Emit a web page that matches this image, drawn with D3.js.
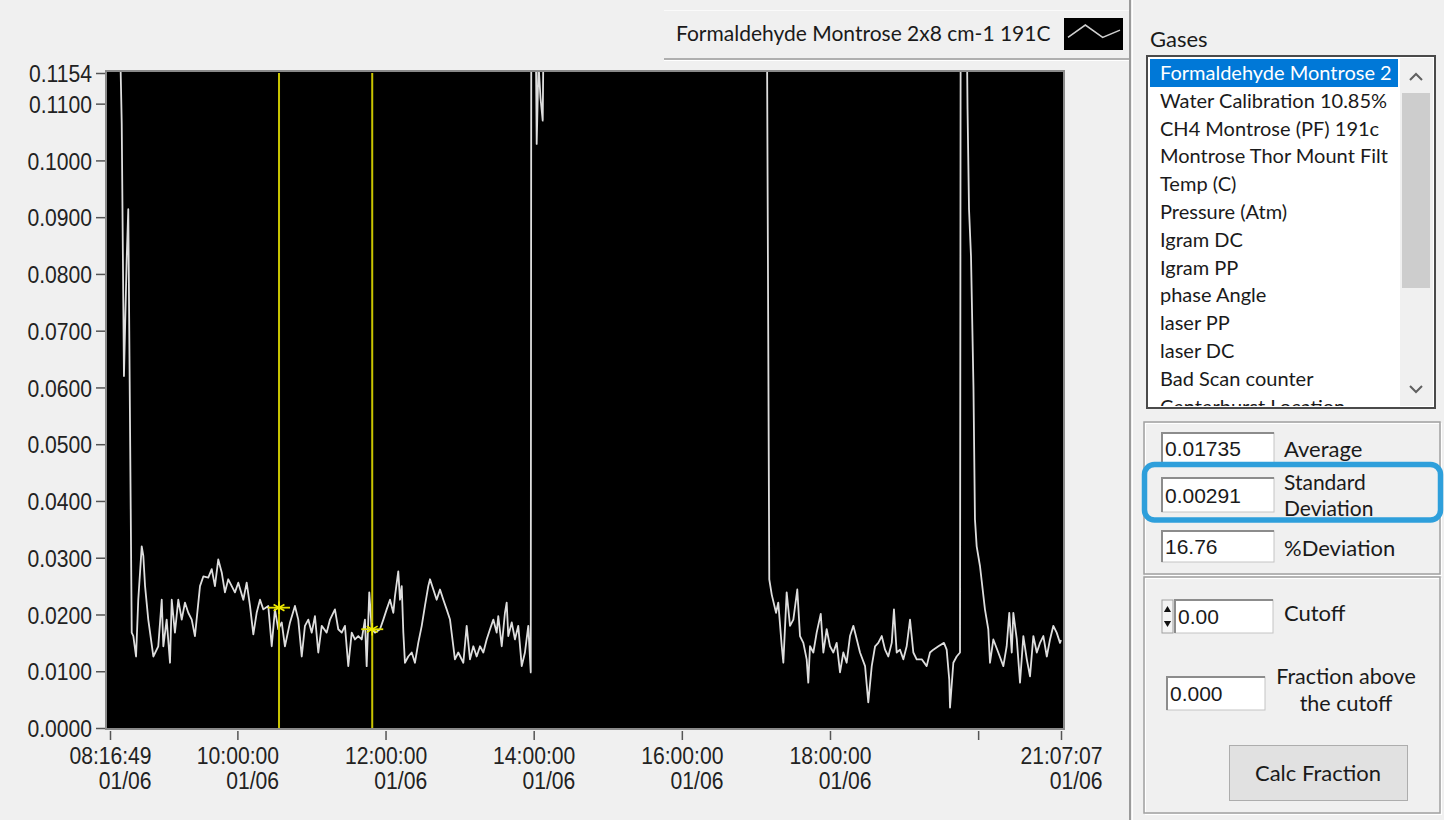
<!DOCTYPE html>
<html><head><meta charset="utf-8">
<script src="https://cdn.jsdelivr.net/npm/d3@7"></script>
<style>
html,body{margin:0;padding:0;background:#f0f0f0;}
svg{display:block;}
</style></head><body>
<svg id="chart" width="1444" height="820"></svg>
<script>
// ---------------- data ----------------
const seriesName = "Formaldehyde Montrose 2x8 cm-1 191C";
const startTime = "2021-01-06 08:16:49";
const endTime = "2021-01-06 21:07:07";
// minutes elapsed since 08:16:49 (readings above 0.1154 are off-scale and clipped)
const elapsedMin = [
  0.0, 7.3, 9.5, 11.3, 13.5, 14.8, 17.6, 18.9, 21.1, 22.9,
  25.7, 27.0, 28.4, 31.0, 35.1, 39.1, 41.9, 43.2, 45.9, 48.6,
  50.0, 52.6, 55.3, 58.1, 60.7, 63.4, 66.2, 68.8, 72.9, 75.6,
  79.6, 82.4, 85.0, 87.7, 90.5, 93.1, 95.8, 98.6, 101.2, 103.9,
  108.0, 110.7, 113.4, 116.1, 118.8, 121.5, 124.2, 128.2, 131.0, 133.6,
  136.3, 139.1, 141.7, 145.8, 149.8, 152.5, 155.3, 157.9, 160.6, 163.4,
  166.0, 168.7, 171.5, 175.5, 178.2, 182.2, 184.9, 187.7, 190.3, 193.0,
  195.8, 198.4, 201.1, 203.9, 206.5, 207.9, 210.0, 212.0, 214.6, 218.7,
  221.4, 224.1, 226.8, 229.5, 230.8, 233.5, 234.9, 236.3, 237.6, 238.9,
  241.6, 244.4, 247.0, 249.7, 252.5, 255.1, 257.8, 259.2, 261.9, 264.6,
  267.3, 270.0, 272.7, 275.4, 278.1, 279.4, 282.1, 286.2, 288.9, 291.6,
  294.3, 297.0, 299.7, 302.4, 305.1, 307.8, 310.5, 313.2, 314.5, 317.3,
  319.9, 321.3, 322.6, 325.4, 328.0, 330.7, 333.5, 336.1, 338.8, 340.8,
  341.3, 344.6, 345.6, 347.1, 348.7, 350.5, 351.5, 396.9, 477.9, 531.8,
  534.0, 536.0, 539.5, 541.3, 544.1, 545.4, 548.1, 550.8, 553.5, 556.7,
  558.9, 561.6, 564.3, 565.6, 567.0, 569.7, 572.4, 575.7, 577.8, 580.5,
  583.2, 585.9, 588.6, 591.3, 594.0, 596.7, 599.4, 602.1, 604.9, 607.5,
  611.6, 614.2, 617.0, 619.7, 622.3, 625.1, 627.8, 630.4, 633.2, 635.0,
  637.2, 639.9, 642.6, 645.3, 648.0, 650.7, 653.4, 657.5, 661.5, 664.2,
  666.9, 671.0, 675.5, 677.7, 679.8, 680.4, 683.1, 685.8, 688.5, 689.1,
  691.7, 693.9, 694.6, 695.8, 697.4, 699.4, 700.6, 702.0, 704.7, 708.7,
  711.4, 712.8, 715.5, 719.5, 723.6, 726.3, 728.4, 730.4, 731.7, 734.5,
  737.1, 739.8, 742.6, 745.2, 747.9, 750.7, 753.3, 756.0, 758.8, 761.4,
  764.1, 766.8, 769.5, 770.3
];
const formaldehyde = [
  0.140, 0.130, 0.1065, 0.0620, 0.0825, 0.0914, 0.0168, 0.0162, 0.0126, 0.0226,
  0.0320, 0.0303, 0.0250, 0.0191, 0.0126, 0.0144, 0.0226, 0.0144, 0.0191, 0.0115,
  0.0226, 0.0168, 0.0226, 0.0191, 0.0221, 0.0203, 0.0191, 0.0162, 0.0250, 0.0267,
  0.0265, 0.0280, 0.0250, 0.0297, 0.0274, 0.0239, 0.0262, 0.0250, 0.0239, 0.0256,
  0.0226, 0.0256, 0.0215, 0.0165, 0.0203, 0.0226, 0.0209, 0.0215, 0.0144, 0.0209,
  0.0174, 0.0186, 0.0144, 0.0186, 0.0215, 0.0191, 0.0126, 0.0180, 0.0191, 0.0168,
  0.0197, 0.0133, 0.0180, 0.0168, 0.0191, 0.0209, 0.0174, 0.0168, 0.0180, 0.0109,
  0.0168, 0.0156, 0.0162, 0.0156, 0.0191, 0.0109, 0.0239, 0.0174, 0.0168, 0.0174,
  0.0191, 0.0209, 0.0226, 0.0203, 0.0232, 0.0276, 0.0226, 0.0250, 0.0168, 0.0115,
  0.0126, 0.0133, 0.0115, 0.0150, 0.0180, 0.0215, 0.0250, 0.0262, 0.0244, 0.0226,
  0.0244, 0.0226, 0.0209, 0.0191, 0.0144, 0.0121, 0.0133, 0.0115, 0.0180, 0.0121,
  0.0144, 0.0126, 0.0144, 0.0133, 0.0156, 0.0174, 0.0191, 0.0168, 0.0197, 0.0144,
  0.0203, 0.0221, 0.0162, 0.0186, 0.0156, 0.0180, 0.0109, 0.0133, 0.0180, 0.0098,
  0.140, 0.130, 0.1029, 0.117, 0.111, 0.1070, 0.130, 0.145, 0.150, 0.140,
  0.0262, 0.0235, 0.0203, 0.0221, 0.0144, 0.0115, 0.0239, 0.0180, 0.0191, 0.0244,
  0.0162, 0.0150, 0.0121, 0.0080, 0.0144, 0.0133, 0.0168, 0.0201, 0.0133, 0.0174,
  0.0144, 0.0133, 0.0150, 0.0098, 0.0133, 0.0115, 0.0162, 0.0180, 0.0156, 0.0133,
  0.0109, 0.0045, 0.0109, 0.0144, 0.0150, 0.0162, 0.0138, 0.0126, 0.0150, 0.0209,
  0.0133, 0.0138, 0.0121, 0.0144, 0.0191, 0.0133, 0.0121, 0.0121, 0.0109, 0.0133,
  0.0138, 0.0144, 0.0150, 0.0138, 0.0085, 0.0036, 0.0115, 0.0126, 0.0133, 0.140,
  0.140, 0.125, 0.1090, 0.0914, 0.0831, 0.0600, 0.0368, 0.0320, 0.0285, 0.0209,
  0.0174, 0.0115, 0.0156, 0.0133, 0.0109, 0.0144, 0.0203, 0.0133, 0.0203, 0.0156,
  0.0080, 0.0162, 0.0121, 0.0091, 0.0162, 0.0133, 0.0150, 0.0162, 0.0126, 0.0156,
  0.0180, 0.0168, 0.0150, 0.0155
];
const yTickValues = [0, 0.01, 0.02, 0.03, 0.04, 0.05, 0.06, 0.07, 0.08, 0.09, 0.10, 0.11, 0.1154];
const yMax = 0.1154;
const xTickTimes = ["08:16:49", "10:00:00", "12:00:00", "14:00:00", "16:00:00", "18:00:00", "20:00:00", "21:07:07"];
const xTickLabels = ["08:16:49", "10:00:00", "12:00:00", "14:00:00", "16:00:00", "18:00:00", "", "21:07:07"];
const xTickDate = "01/06";
const cursorMin = [136.9, 212.4];
const cursorValues = [0.0212, 0.0174];
const legendGlyph = [0.62, 0.18, 0.62, 0.36];
// list entries as visible in the (narrow) list box
const gasList = ["Formaldehyde Montrose 2", "Water Calibration 10.85%", "CH4 Montrose (PF) 191c",
  "Montrose Thor Mount Filt", "Temp (C)", "Pressure (Atm)", "Igram DC", "Igram PP", "phase Angle",
  "laser PP", "laser DC", "Bad Scan counter", "Centerburst Location"];
const statValues = ["0.01735", "0.00291", "16.76"];
const cutoffValue = "0.00";
const fractionValue = "0.000";

// ---------------- chart ----------------
const svg = d3.select("#chart");
const uiFont = "Lato, 'Noto Sans', sans-serif";
const numFont = "'Liberation Sans', Arial, sans-serif";
const parse = d3.timeParse("%Y-%m-%d %H:%M:%S");
const t0 = parse(startTime), t1 = parse(endTime);
const dayStr = startTime.slice(0, 10);
const atMin = m => new Date(t0.getTime() + m * 60000);

const x = d3.scaleTime().domain([t0, t1]).range([110, 1061]);
const y = d3.scaleLinear().domain([0, yMax]).range([728, 73]);

const data = elapsedMin.map((m, i) => ({t: atMin(m), v: formaldehyde[i]}));

// plot frame
svg.append("rect").attr("x", 106).attr("y", 71).attr("width", 958).attr("height", 658)
  .attr("fill", "#000").attr("stroke", "#8a8a8a").attr("stroke-width", 2);
svg.append("clipPath").attr("id", "plotClip").append("rect")
  .attr("x", 107).attr("y", 72).attr("width", 956).attr("height", 656);

const plot = svg.append("g").attr("clip-path", "url(#plotClip)");
plot.append("path").datum(data)
  .attr("fill", "none").attr("stroke", "#dedede").attr("stroke-width", 1.8)
  .attr("stroke-linejoin", "round")
  .attr("d", d3.line().x(d => x(d.t)).y(d => y(d.v)));

// cursors
const cursors = cursorMin.map((m, i) => ({t: atMin(m), v: cursorValues[i]}));
plot.selectAll("line.cursor").data(cursors).join("line").attr("class", "cursor")
  .attr("x1", d => x(d.t)).attr("x2", d => x(d.t)).attr("y1", y(yMax)).attr("y2", y(0))
  .attr("stroke", "#c9c400").attr("stroke-width", 2);
plot.selectAll("line.cbar").data(cursors).join("line").attr("class", "cbar")
  .attr("x1", d => x(d.t) - 11).attr("x2", d => x(d.t) + 11).attr("y1", d => y(d.v)).attr("y2", d => y(d.v))
  .attr("stroke", "#e6e200").attr("stroke-width", 1.8);
plot.selectAll("path.cmark").data(cursors).join("path").attr("class", "cmark")
  .attr("transform", d => `translate(${x(d.t)},${y(d.v)})`)
  .attr("d", d3.symbol().type(d3.symbolAsterisk).size(110))
  .attr("fill", "none").attr("stroke", "#eeea00").attr("stroke-width", 1.6);

// y axis
const yAxis = svg.append("g").attr("transform", "translate(105,0)")
  .call(d3.axisLeft(y).tickValues(yTickValues).tickSize(9).tickFormat(d3.format(".4f")));
yAxis.select(".domain").remove();
yAxis.selectAll(".tick line").attr("stroke", "#555").attr("stroke-width", 1.5);
yAxis.selectAll(".tick text")
  .attr("font-family", numFont).attr("font-size", 24).attr("fill", "#222")
  .attr("x", -13 / 0.88).attr("dy", "0.36em").attr("transform", "scale(0.88,1)");

// x axis
const xTickDates = xTickTimes.map(s => parse(dayStr + " " + s));
const xAxis = svg.append("g").attr("transform", "translate(0,731)")
  .call(d3.axisBottom(x).tickValues(xTickDates).tickSize(9).tickFormat(""));
xAxis.select(".domain").remove();
xAxis.selectAll(".tick line").attr("stroke", "#555").attr("stroke-width", 1.5);
xAxis.selectAll(".tick text").remove();
xAxis.selectAll(".tick").each(function(d, i) {
  if (!xTickLabels[i]) return;
  const g = d3.select(this);
  const t1t = g.append("text").text(xTickLabels[i])
    .attr("font-family", numFont).attr("font-size", 24).attr("fill", "#222")
    .attr("text-anchor", "end").attr("y", 33).attr("transform", "scale(0.88,1)");
  const len = t1t.node().getComputedTextLength();
  t1t.attr("x", len / 2);
  g.append("text").text(xTickDate)
    .attr("font-family", numFont).attr("font-size", 24).attr("fill", "#222")
    .attr("text-anchor", "end").attr("x", len / 2).attr("y", 58).attr("transform", "scale(0.88,1)");
});

// legend
svg.append("line").attr("x1", 664).attr("x2", 1130).attr("y1", 10.5).attr("y2", 10.5).attr("stroke", "#fafafa");
svg.append("line").attr("x1", 664).attr("x2", 1130).attr("y1", 59).attr("y2", 59).attr("stroke", "#9a9a9a").attr("stroke-width", 1.5);
svg.append("line").attr("x1", 664).attr("x2", 1130).attr("y1", 60.5).attr("y2", 60.5).attr("stroke", "#ffffff");
svg.append("text").text(seriesName).attr("x", 676).attr("y", 34).attr("dy", "0.35em")
  .attr("font-family", uiFont).attr("font-size", 21).attr("fill", "#1a1a1a");
svg.append("rect").attr("x", 1064).attr("y", 18).attr("width", 59).attr("height", 32).attr("fill", "#000");
const gx = d3.scaleLinear().domain([0, legendGlyph.length - 1]).range([1068, 1120]);
const gy = d3.scaleLinear().domain([0, 1]).range([20, 48]);
svg.append("path").datum(legendGlyph).attr("fill", "none").attr("stroke", "#cfcfcf").attr("stroke-width", 1.5)
  .attr("d", d3.line().x((d, i) => gx(i)).y(d => gy(d)));

// panel separator
svg.append("line").attr("x1", 1130).attr("x2", 1130).attr("y1", 0).attr("y2", 820).attr("stroke", "#9a9a9a").attr("stroke-width", 2);
svg.append("line").attr("x1", 1132.5).attr("x2", 1132.5).attr("y1", 0).attr("y2", 820).attr("stroke", "#ffffff");

// gases list
svg.append("text").text("Gases").attr("x", 1150).attr("y", 39).attr("dy", "0.35em")
  .attr("font-family", uiFont).attr("font-size", 22).attr("fill", "#1a1a1a");
svg.append("rect").attr("x", 1147).attr("y", 56).attr("width", 288).attr("height", 352)
  .attr("fill", "#fff").attr("stroke", "#4a4a4a").attr("stroke-width", 2);
svg.append("clipPath").attr("id", "listClip").append("rect")
  .attr("x", 1149).attr("y", 58).attr("width", 250).attr("height", 348);
const list = svg.append("g").attr("clip-path", "url(#listClip)");
list.append("rect").attr("x", 1150).attr("y", 59).attr("width", 248).attr("height", 28).attr("fill", "#0078d7");
list.selectAll("text").data(gasList).join("text").text(d => d)
  .attr("x", 1160).attr("y", (d, i) => 73 + i * 27.8).attr("dy", "0.35em")
  .attr("font-family", uiFont).attr("font-size", 20)
  .attr("fill", (d, i) => i === 0 ? "#ffffff" : "#1a1a1a");
// scrollbar
svg.append("rect").attr("x", 1400).attr("y", 58).attr("width", 33).attr("height", 348).attr("fill", "#f0f0f0");
svg.append("rect").attr("x", 1402).attr("y", 93).attr("width", 28).attr("height", 195).attr("fill", "#cdcdcd");
svg.append("path").attr("d", "M1410,80 L1416,74 L1422,80").attr("fill", "none").attr("stroke", "#606060").attr("stroke-width", 2);
svg.append("path").attr("d", "M1410,386 L1416,392 L1422,386").attr("fill", "none").attr("stroke", "#606060").attr("stroke-width", 2);

// group boxes
function etched(x0, y0, w, h) {
  svg.append("rect").attr("x", x0 + 1.5).attr("y", y0 + 1.5).attr("width", w).attr("height", h)
    .attr("fill", "none").attr("stroke", "#ffffff").attr("stroke-width", 1);
  svg.append("rect").attr("x", x0).attr("y", y0).attr("width", w).attr("height", h)
    .attr("fill", "none").attr("stroke", "#a0a0a0").attr("stroke-width", 1.5);
}
etched(1144, 422, 296, 152);
etched(1144, 577, 296, 236);

function textBox(x0, y0, w, h, val) {
  svg.append("rect").attr("x", x0).attr("y", y0).attr("width", w).attr("height", h)
    .attr("fill", "#fff").attr("stroke", "#c4c4c4").attr("stroke-width", 1);
  svg.append("path").attr("d", `M${x0},${y0 + h} L${x0},${y0} L${x0 + w},${y0}`)
    .attr("fill", "none").attr("stroke", "#8c8c8c").attr("stroke-width", 2);
  svg.append("text").text(val).attr("x", x0 + 3).attr("y", y0 + h / 2).attr("dy", "0.36em")
    .attr("font-family", numFont).attr("font-size", 21).attr("fill", "#1a1a1a");
}
function label(txt, x0, yc, anchor, size) {
  svg.append("text").text(txt).attr("x", x0).attr("y", yc).attr("dy", "0.35em")
    .attr("text-anchor", anchor || "start")
    .attr("font-family", uiFont).attr("font-size", size || 22).attr("fill", "#1a1a1a");
}

const boxY = [433, 478, 531], boxH = [31, 34, 31];
statValues.forEach((v, i) => textBox(1162, boxY[i], 112, boxH[i], v));
label("Average", 1284, 449);
label("Standard", 1284, 483, "start", 21);
label("Deviation", 1284, 509, "start", 21);
label("%Deviation", 1284, 548);

// highlight around standard deviation
svg.append("rect").attr("x", 1144.5).attr("y", 464.5).attr("width", 296).attr("height", 55.5).attr("rx", 10)
  .attr("fill", "none").attr("stroke", "#2e9fdb").attr("stroke-width", 5.5);

// cutoff
svg.append("rect").attr("x", 1162).attr("y", 600).attr("width", 11).attr("height", 33)
  .attr("fill", "#f4f4f4").attr("stroke", "#a0a0a0");
svg.append("path").attr("transform", "translate(1167.5,610)").attr("d", d3.symbol().type(d3.symbolTriangle).size(22)).attr("fill", "#111");
svg.append("path").attr("transform", "translate(1167.5,623) rotate(180)").attr("d", d3.symbol().type(d3.symbolTriangle).size(22)).attr("fill", "#111");
textBox(1175, 600, 98, 33, cutoffValue);
label("Cutoff", 1284, 613);
textBox(1167, 677, 98, 33, fractionValue);
label("Fraction above", 1346, 676, "middle", 21.5);
label("the cutoff", 1346, 703, "middle", 21.5);

// button
svg.append("rect").attr("x", 1229.5).attr("y", 745.5).attr("width", 178).attr("height", 55)
  .attr("fill", "#e1e1e1").attr("stroke", "#adadad");
label("Calc Fraction", 1318, 773, "middle");
</script>
</body></html>
